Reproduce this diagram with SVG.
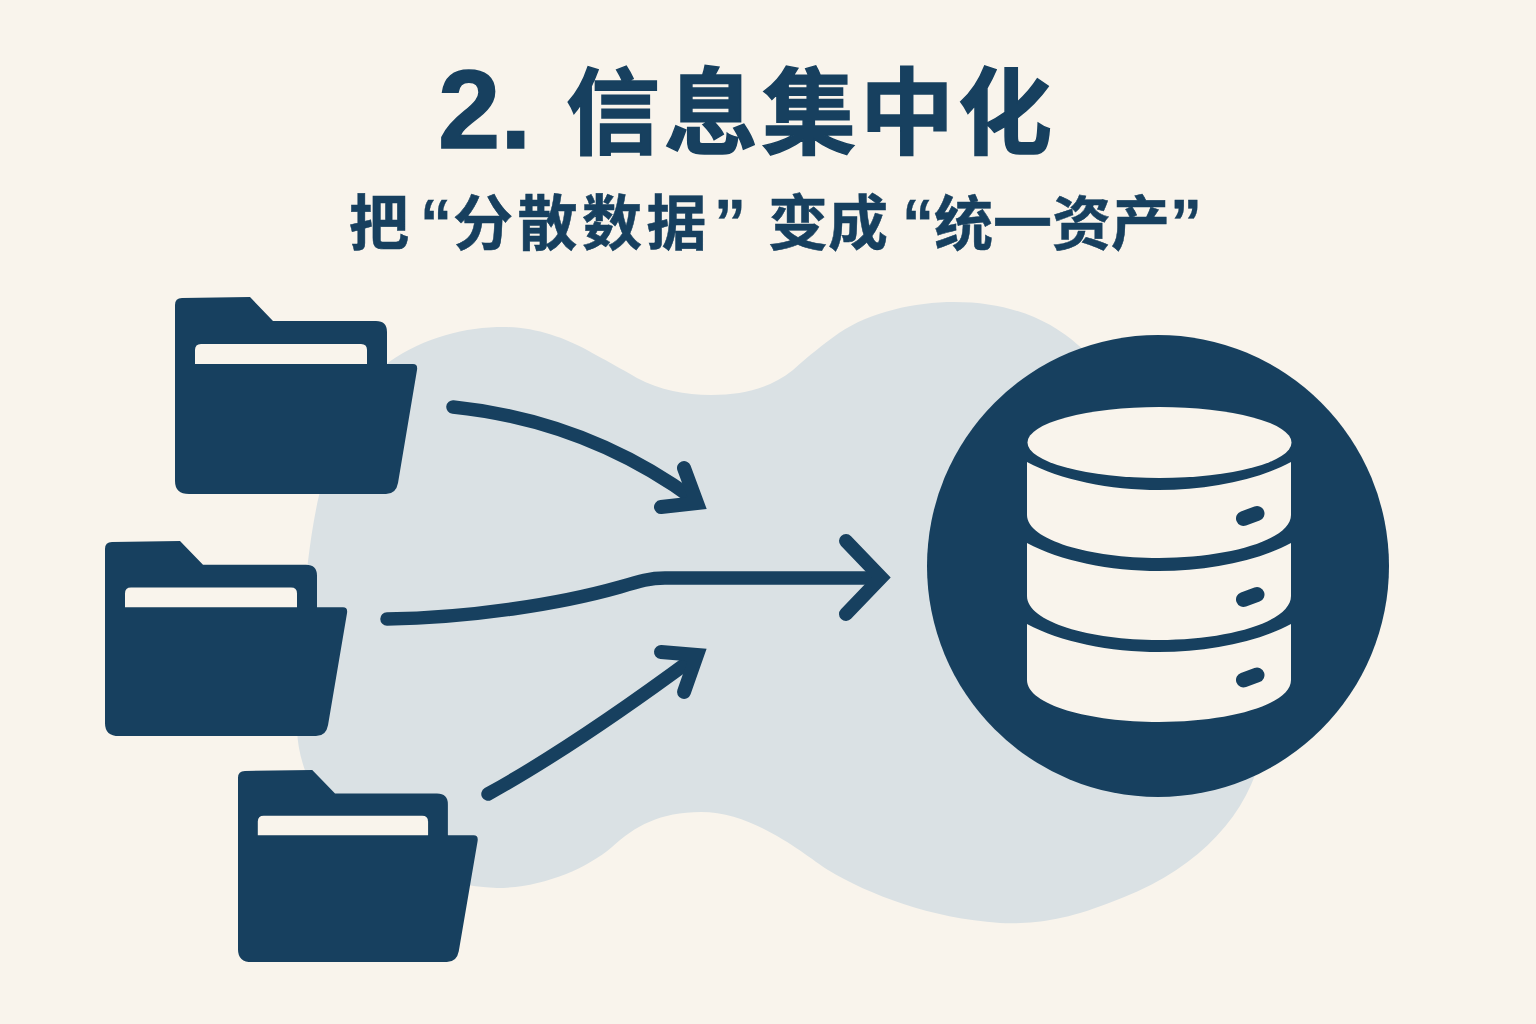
<svg xmlns="http://www.w3.org/2000/svg" width="1536" height="1024" viewBox="0 0 1536 1024">
<style>
.navy{fill:#17405f}
.cream{fill:#f9f4ec}
.line{fill:none;stroke:#17405f;stroke-width:13.500;stroke-linecap:round;stroke-linejoin:round}
.head{fill:none;stroke:#17405f;stroke-width:14;stroke-linecap:round;stroke-linejoin:miter}
.pill{fill:none;stroke:#17405f;stroke-width:15;stroke-linecap:round}
.t{font-family:"Noto Sans CJK SC","Liberation Sans",sans-serif;font-weight:700;fill:#17405f;stroke:#17405f}
.q{font-family:"Liberation Sans",sans-serif;font-size:64px;stroke-width:.3}
</style>
<defs>
<g id="folder">
<path class="navy" d="M0 8Q0 1 7 1L75 0L98 24H201Q212 24 212 35V67H238Q243 67 242 73L223 186Q221 197 211 197H14Q0 197 0 184Z"/>
<path class="cream" d="M20 67V53Q20 47 26 47H186Q192 47 192 53V67Z"/>
</g>
</defs>
<rect width="1536" height="1024" fill="#f9f4ec"/>
<path id="blob" fill="#dae1e4" d="M389 362C425 337 465 327 504 327C535 327 565 338 587 350C605 360 620 368 637 378C660 390 685 395 711 395C745 395 770 388 793 370C810 355 822 345 839 333C870 312 915 302 954 302C1010 302 1050 320 1078 345C1150 400 1240 520 1262 660C1285 770 1230 860 1109 903C1060 922 1030 924 1000 923C930 918 870 895 828 870C805 855 755 812 701 812C660 812 635 826 612 847C585 870 540 888 497 888C360 880 300 800 297 730C300 650 305 520 330 460C345 420 365 385 389 362Z"/>
<g id="title">
<text class="t" y="148" font-size="94" letter-spacing="4" stroke-width="1.500"><tspan x="438" font-family="Liberation Sans, sans-serif" font-size="112" letter-spacing="0">2.</tspan> <tspan x="566" dy="-1">信息集中化</tspan></text>
<text class="t" y="245" font-size="60" stroke-width=".5"><tspan x="349">把</tspan> <tspan class="q" x="420">“</tspan><tspan x="453" letter-spacing="4.500">分散数据</tspan><tspan class="q" x="714">”</tspan> <tspan x="768">变成</tspan> <tspan class="q" x="902">“</tspan><tspan x="934" font-size="59">统一资产</tspan><tspan class="q" x="1170">”</tspan></text>
</g>
<g id="folder-1"><use href="#folder" x="175" y="297"/></g>
<g id="folder-2"><use href="#folder" transform="translate(105 541) scale(1 .99)"/></g>
<g id="folder-3"><use href="#folder" transform="translate(238 770) scale(.99 .975)"/></g>
<g id="connectors">
<path class="line" d="M453 407C540 416 620 445 695 500"/>
<path class="head" d="M684 468L697 503L661 507"/>
<path class="line" d="M387 619C470 618 560 604 620 587C640 581 650 578 665 578H880"/>
<path class="head" d="M846 541L881 577.500L846 614"/>
<path class="line" d="M488 794C555 757 630 705 695 657"/>
<path class="head" d="M661 652L697 655L684 692"/>
</g>
<g id="database">
<circle class="navy" cx="1158" cy="566" r="231"/>
<ellipse class="cream" cx="1159.500" cy="442.500" rx="132" ry="35.500"/>
<path class="cream" d="M1027 462C1060 480 1110 490 1159 490C1208 490 1258 480 1291 462V515C1291 540 1228 558 1159 558C1090 558 1027 540 1027 515Z"/>
<path class="cream" d="M1027 543C1060 561 1110 571 1159 571C1208 571 1258 561 1291 543V596C1291 622 1228 640 1159 640C1090 640 1027 622 1027 596Z"/>
<path class="cream" d="M1027 624C1060 642 1110 652 1159 652C1208 652 1258 642 1291 624V680C1291 705 1228 722 1159 722C1090 722 1027 705 1027 680Z"/>
<path class="pill" d="M1243.500 518.500L1257 513.500M1243.500 599.500L1257 594.500M1243.500 680L1257 675"/>
</g>
</svg>
